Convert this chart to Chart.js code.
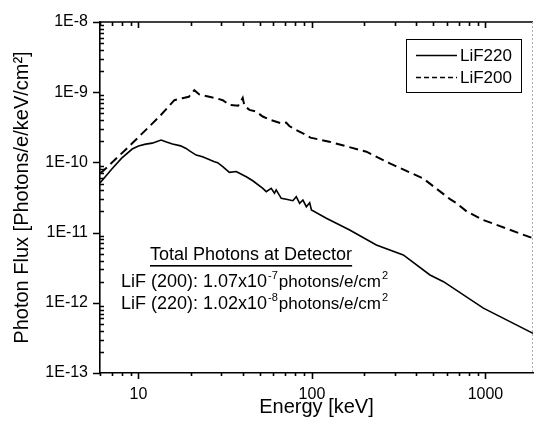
<!DOCTYPE html>
<html>
<head>
<meta charset="utf-8">
<script src="https://cdn.jsdelivr.net/npm/chart.js@4.4.1/dist/chart.umd.min.js"></script>
<style>
  html, body { margin: 0; padding: 0; background: #fff; }
  #wrap { width: 534px; height: 428px; }
</style>
</head>
<body>
<div id="wrap"><canvas id="flux_chart" width="534" height="428"></canvas></div>
<script>
// values (energy in keV, flux in photons/e/keV/cm^2)
const lif220_energy = [6, 7, 8, 9.2, 10, 11, 12, 13.5, 14.5, 15.7, 17.5, 18.8, 19.6, 21.5, 23.4, 27.4, 28.6, 30.6, 33.4, 36.6, 38.2, 41.8, 45.6, 52.1, 54.5, 58.2, 60.8, 62.2, 66.5, 71.1, 77.6, 81.2, 84.9, 88.7, 92.8, 97, 99.3, 121, 165, 235, 336, 479, 573, 973, 1880]
const lif220_flux = [5.1e-11, 8.0e-11, 1.15e-10, 1.55e-10, 1.71e-10, 1.82e-10, 1.88e-10, 2.08e-10, 1.95e-10, 1.83e-10, 1.72e-10, 1.58e-10, 1.47e-10, 1.27e-10, 1.2e-10, 1.02e-10, 9.9e-11, 8.7e-11, 7.2e-11, 7.4e-11, 7.0e-11, 6.25e-11, 5.48e-11, 4.27e-11, 3.83e-11, 4.27e-11, 3.63e-11, 4.05e-11, 3.08e-11, 2.98e-11, 2.85e-11, 3.25e-11, 2.61e-11, 2.91e-11, 2.34e-11, 2.67e-11, 2.1e-11, 1.6e-11, 1.09e-11, 6.65e-12, 4.8e-12, 2.49e-12, 2.0e-12, 8.4e-13, 3.67e-13]

const lif200_energy = [6, 6.2, 9.2, 13.2, 16.1, 17.9, 19.5, 21, 22.4, 24.5, 28, 30.6, 33.4, 37.5, 39, 39.9, 40.8, 43.6, 47.7, 52, 58.2, 66.5, 71, 74, 81, 88.7, 98, 126, 206, 281, 438, 625, 684, 780, 973, 1880]
const lif200_flux = [7.0e-11, 7.4e-11, 1.87e-10, 4.5e-10, 7.7e-10, 8.2e-10, 8.6e-10, 1.07e-9, 9.3e-10, 8.8e-10, 8.2e-10, 7.7e-10, 6.6e-10, 6.4e-10, 7.5e-10, 8.3e-10, 6.4e-10, 5.6e-10, 5.3e-10, 4.5e-10, 4.0e-10, 3.6e-10, 3.7e-10, 3.3e-10, 2.9e-10, 2.6e-10, 2.25e-10, 1.97e-10, 1.42e-10, 9.7e-11, 5.9e-11, 3.0e-11, 2.6e-11, 2.0e-11, 1.51e-11, 8.3e-12]

const series_labels = ["LiF220", "LiF200"]
const x_range = [6, 1880]
const y_range = [1e-13, 1e-8]
const note_title = "Total Photons at Detector"
const note_lines = [
    ["LiF (200): 1.07x10", "-7", "photons/e/cm", "2"],
    ["LiF (220): 1.02x10", "-8", "photons/e/cm", "2"]
]

const FONT = "'Liberation Sans', Arial, sans-serif"

const to_points = (xs, ys) => xs.map((x, i) => ({x: x, y: ys[i]}))

const is_decade = (v) => Math.abs(Math.log10(v) - Math.round(Math.log10(v))) < 1e-9

const log_ticks = (scale) => {
    const ticks = []
    const lo = Math.floor(Math.log10(scale.min) + 1e-9)
    const hi = Math.ceil(Math.log10(scale.max) - 1e-9)
    for (let e = lo; e <= hi; e++) {
        for (let m = 1; m <= 9; m++) {
            const v = m * Math.pow(10, e)
            if (v >= scale.min * 0.999999 && v <= scale.max * 1.000001) ticks.push({value: v})
        }
    }
    scale.ticks = ticks
}

// tick marks: majors out, minors in, mirrored along the top
const tick_plugin = {
    id: 'tick_marks',
    afterDraw(chart) {
        const {ctx, chartArea: a} = chart
        const xs = chart.scales.x, ys = chart.scales.y
        ctx.save()
        ctx.strokeStyle = '#000'
        ctx.lineWidth = 1.6
        ctx.beginPath()
        ctx.moveTo(a.left, a.top); ctx.lineTo(a.right, a.top)
        xs.ticks.forEach((t) => {
            const px = Math.round(xs.getPixelForValue(t.value)) + 0.5
            const major = is_decade(t.value)
            ctx.moveTo(px, a.bottom); ctx.lineTo(px, a.bottom + (major ? 6 : 3))
            ctx.moveTo(px, a.top); ctx.lineTo(px, a.top + (major ? 6 : 4))
        })
        ys.ticks.forEach((t) => {
            const py = Math.round(ys.getPixelForValue(t.value)) + 0.5
            if (is_decade(t.value)) {
                ctx.moveTo(a.left - 7, py); ctx.lineTo(a.left, py)
            } else {
                ctx.moveTo(a.left, py); ctx.lineTo(a.left + 4, py)
            }
        })
        ctx.stroke()
        // clipped right frame
        ctx.strokeStyle = '#b0b0b0'
        ctx.lineWidth = 1
        ctx.setLineDash([2, 2])
        ctx.beginPath()
        ctx.moveTo(a.right - 0.5, a.top); ctx.lineTo(a.right - 0.5, a.bottom)
        ctx.stroke()
        ctx.restore()
    }
}

// boxed legend and the text note
const note_plugin = {
    id: 'note_and_legend',
    afterDraw(chart) {
        const ctx = chart.ctx
        ctx.save()
        // legend box
        ctx.strokeStyle = '#000'
        ctx.lineWidth = 1
        ctx.strokeRect(406.5, 39.5, 115, 53)
        const rows = [55.5, 77.5]
        chart.data.datasets.forEach((ds, i) => {
            ctx.beginPath()
            ctx.lineWidth = 1.5
            ctx.setLineDash(i === 1 ? [5, 3] : [])
            ctx.moveTo(416, rows[i]); ctx.lineTo(457, rows[i])
            ctx.stroke()
            ctx.setLineDash([])
            ctx.fillStyle = '#000'
            ctx.font = '17px ' + FONT
            ctx.textBaseline = 'middle'
            ctx.fillText(ds.label, 460, rows[i] + 1)
        })
        // note
        ctx.textBaseline = 'alphabetic'
        ctx.font = '18px ' + FONT
        ctx.fillText(note_title, 150, 260)
        const w = ctx.measureText(note_title).width
        ctx.fillRect(150, 265, w, 1.6)
        const baselines = [287, 309]
        note_lines.forEach((parts, i) => {
            let x = 121
            const y = baselines[i]
            ctx.font = '18px ' + FONT
            ctx.fillText(parts[0], x, y)
            x += ctx.measureText(parts[0]).width + 1
            ctx.font = '11px ' + FONT
            ctx.fillText(parts[1], x, y - 8)
            x += ctx.measureText(parts[1]).width + 1
            ctx.font = '17px ' + FONT
            ctx.fillText(parts[2], x, y)
            x += ctx.measureText(parts[2]).width + 1
            ctx.font = '11px ' + FONT
            ctx.fillText(parts[3], x, y - 8)
        })
        ctx.restore()
    }
}

const flux_data = {
    datasets: [{
        label: series_labels[0],
        data: to_points(lif220_energy, lif220_flux),
        borderColor: '#000',
        borderWidth: 1.6,
        pointRadius: 0,
        tension: 0
    }, {
        label: series_labels[1],
        data: to_points(lif200_energy, lif200_flux),
        borderColor: '#000',
        borderWidth: 2,
        borderDash: [9, 5],
        pointRadius: 0,
        tension: 0
    }]
}

const flux_config = {
    type: 'line',
    data: flux_data,
    options: {
        responsive: false,
        animation: false,
        layout: { padding: { top: 22, right: 1, left: 0, bottom: 0 } },
        plugins: {
            legend: { display: false },
            tooltip: { enabled: false }
        },
        scales: {
            x: {
                type: 'logarithmic',
                min: x_range[0],
                max: x_range[1],
                afterBuildTicks: log_ticks,
                afterFit: (scale) => { scale.height = 55 },
                grid: { display: false, drawTicks: false },
                border: { display: true, color: '#000', width: 1.6 },
                ticks: {
                    autoSkip: false,
                    maxRotation: 0,
                    padding: 12,
                    color: '#000',
                    font: { family: FONT, size: 16 },
                    callback: (v) => is_decade(v) ? String(Math.round(v)) : ''
                },
                title: {
                    display: true,
                    text: 'Energy [keV]',
                    color: '#000',
                    font: { family: FONT, size: 20 },
                    padding: { top: 0, bottom: 9 }
                }
            },
            y: {
                type: 'logarithmic',
                min: y_range[0],
                max: y_range[1],
                afterBuildTicks: log_ticks,
                afterFit: (scale) => { scale.width = 100 },
                grid: { display: false, drawTicks: false },
                border: { display: true, color: '#000', width: 1.6 },
                ticks: {
                    autoSkip: false,
                    padding: 12,
                    color: '#000',
                    font: { family: FONT, size: 16 },
                    callback: (v) => is_decade(v) ? '1E' + Math.round(Math.log10(v)) : ''
                },
                title: {
                    display: true,
                    text: 'Photon Flux [Photons/e/keV/cm\u00B2]',
                    color: '#000',
                    font: { family: FONT, size: 20 },
                    padding: { top: 10, bottom: 0 }
                }
            }
        }
    },
    plugins: [tick_plugin, note_plugin]
}

var ctx_flux = document.getElementById("flux_chart")
var flux_chart = new Chart(ctx_flux, flux_config)
</script>
</body>
</html>
